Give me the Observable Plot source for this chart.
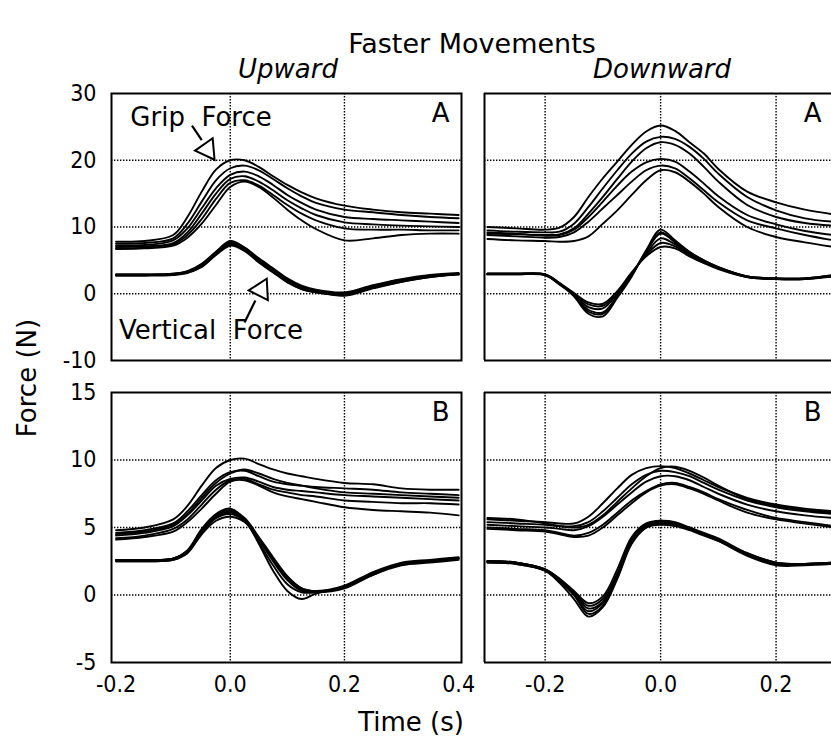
<!DOCTYPE html>
<html><head><meta charset="utf-8">
<script src="https://cdn.jsdelivr.net/npm/d3@7"></script>
<script src="https://cdn.jsdelivr.net/npm/@observablehq/plot@0.6"></script>
<style>
html,body{margin:0;padding:0;background:#fff;overflow:hidden}
#chart{position:relative;width:831px;height:743px;font-family:"DejaVu Sans",sans-serif;color:#000;background:#fff}
#chart svg{position:absolute;left:0;top:0;max-width:none}
.t{position:absolute;white-space:nowrap;line-height:1;transform:translate(-50%,-50%)}
</style></head><body>
<div id="chart">
  <div class="t" style="left:472px;top:43px;font-size:27px">Faster Movements</div>
  <div class="t" style="left:288px;top:69px;font-size:26px;font-style:italic">Upward</div>
  <div class="t" style="left:662px;top:69px;font-size:26px;font-style:italic">Downward</div>
  <div class="t" style="left:27px;top:378px;font-size:26px;transform:translate(-50%,-50%) rotate(-90deg)">Force (N)</div>
  <div class="t" style="left:411px;top:722px;font-size:26px">Time (s)</div>
</div>
<script>
// ---------- data ----------
const timeUp = [-0.2, -0.15, -0.1, -0.075, -0.05, -0.025, 0, 0.025, 0.05, 0.075, 0.1, 0.125, 0.15, 0.2, 0.25, 0.3, 0.35, 0.4];
const timeDown = [-0.3, -0.25, -0.2, -0.175, -0.15, -0.125, -0.1, -0.075, -0.05, -0.025, 0, 0.025, 0.05, 0.075, 0.1, 0.15, 0.2, 0.25, 0.3];

const upGripA = [
  [7.8, 7.9, 8.8, 11.5, 15.3, 18.6, 20.0, 20.0, 19.0, 17.6, 16.3, 15.2, 14.3, 13.2, 12.6, 12.2, 12.0, 11.8],
  [7.5, 7.6, 8.3, 10.5, 13.8, 17.0, 18.8, 19.2, 18.5, 17.2, 15.8, 14.6, 13.6, 12.6, 12.2, 11.8, 11.5, 11.3],
  [7.2, 7.3, 8.0, 9.8, 12.8, 15.8, 17.8, 18.3, 17.6, 16.3, 14.8, 13.6, 12.6, 11.5, 11.2, 11.0, 10.8, 10.6],
  [7.0, 7.1, 7.6, 9.2, 12.0, 15.0, 17.2, 17.6, 16.8, 15.5, 14.0, 12.8, 11.8, 10.7, 10.4, 10.2, 10.1, 10.0],
  [6.8, 6.9, 7.4, 8.8, 11.2, 14.2, 16.6, 17.0, 16.2, 14.8, 13.3, 12.0, 11.0, 9.8, 9.6, 9.6, 9.5, 9.5],
  [6.7, 6.8, 7.2, 8.4, 10.5, 13.3, 16.0, 16.8, 16.0, 14.4, 12.6, 11.0, 9.7, 8.0, 8.3, 8.8, 9.0, 9.0]
];
const upVertA = [
  [2.9, 2.9, 3.0, 3.4, 4.5, 6.3, 7.9, 6.9, 5.2, 3.7, 2.2, 1.1, 0.5, 0.1, 1.2, 2.1, 2.7, 3.0],
  [2.8, 2.8, 2.9, 3.3, 4.3, 6.1, 7.6, 6.7, 5.0, 3.5, 2.0, 0.9, 0.3, -0.1, 1.0, 1.9, 2.6, 2.9],
  [2.8, 2.8, 2.9, 3.2, 4.2, 6.0, 7.4, 6.5, 4.8, 3.3, 1.8, 0.7, 0.2, -0.2, 0.9, 1.8, 2.5, 2.9],
  [2.7, 2.7, 2.8, 3.1, 4.0, 5.8, 7.2, 6.4, 4.7, 3.2, 1.7, 0.7, 0.2, 0.0, 1.1, 2.0, 2.6, 2.9],
  [2.9, 2.9, 3.0, 3.3, 4.4, 6.2, 7.8, 6.9, 5.3, 3.8, 2.3, 1.2, 0.6, 0.2, 1.3, 2.2, 2.8, 3.1],
  [2.8, 2.8, 2.9, 3.2, 4.1, 5.9, 7.5, 6.6, 5.1, 3.6, 2.1, 1.0, 0.4, -0.3, 0.8, 1.8, 2.5, 3.0]
];
const downGripA = [
  [10.0, 9.8, 9.6, 9.9, 11.5, 14.5, 17.3, 19.8, 22.3, 24.3, 25.2, 24.4, 22.7, 21.0, 18.7, 15.3, 13.7, 12.6, 11.9],
  [9.5, 9.3, 9.2, 9.3, 10.5, 13.0, 15.8, 18.5, 21.0, 22.8, 23.5, 23.2, 22.0, 20.2, 18.0, 14.5, 12.5, 11.3, 10.8],
  [9.0, 8.9, 8.8, 8.9, 9.8, 12.0, 14.5, 17.2, 19.8, 21.8, 22.7, 22.3, 21.0, 19.0, 16.8, 13.3, 11.5, 10.6, 10.2],
  [8.8, 8.6, 8.4, 8.5, 9.2, 10.8, 12.8, 14.8, 16.8, 18.5, 19.2, 18.8, 17.3, 15.5, 13.7, 11.0, 9.8, 8.8, 8.0],
  [8.2, 8.0, 7.9, 7.8, 7.9, 8.6, 10.5, 12.5, 14.8, 17.0, 18.5, 18.2, 16.8, 15.0, 13.0, 10.0, 8.5, 7.7, 7.0],
  [9.2, 9.0, 8.7, 8.8, 9.6, 11.5, 13.8, 16.2, 18.3, 19.7, 20.2, 19.8, 18.3, 16.5, 14.6, 11.8, 10.4, 9.4, 8.8]
];
const downVertA = [
  [3.0, 3.0, 2.9, 1.6, -0.4, -3.0, -3.4, -0.6, 2.6, 6.5, 9.6, 8.0, 6.3, 5.0, 4.0, 2.6, 2.3, 2.3, 2.8],
  [3.0, 3.0, 2.8, 1.5, -0.2, -2.4, -2.8, -0.3, 2.8, 6.4, 9.2, 7.7, 6.1, 4.9, 3.9, 2.5, 2.2, 2.2, 2.7],
  [2.9, 2.9, 2.8, 1.4, -0.1, -2.0, -2.2, 0.0, 3.0, 6.0, 8.3, 7.4, 6.0, 4.8, 3.9, 2.6, 2.3, 2.3, 2.7],
  [2.9, 2.9, 2.8, 1.5, 0.0, -1.6, -1.8, 0.2, 3.1, 5.8, 7.6, 7.1, 5.8, 4.7, 3.8, 2.5, 2.2, 2.2, 2.6],
  [3.0, 3.0, 2.9, 1.6, 0.1, -1.3, -1.5, 0.4, 3.2, 5.6, 7.0, 6.8, 5.6, 4.6, 3.7, 2.5, 2.2, 2.2, 2.7],
  [3.0, 3.0, 2.8, 1.4, -0.3, -2.7, -3.0, -0.4, 2.7, 6.3, 9.0, 7.8, 6.2, 5.0, 4.0, 2.6, 2.3, 2.3, 2.8]
];
const upGripB = [
  [4.8, 5.0, 5.6, 6.6, 8.1, 9.4, 10.0, 10.1, 9.7, 9.3, 9.0, 8.8, 8.6, 8.3, 8.2, 7.9, 7.8, 7.8],
  [4.6, 4.8, 5.3, 6.2, 7.4, 8.5, 9.1, 9.2, 8.8, 8.4, 8.2, 8.1, 8.0, 7.9, 7.8, 7.6, 7.5, 7.4],
  [4.4, 4.6, 5.1, 5.9, 7.0, 8.1, 8.6, 8.7, 8.4, 8.0, 7.8, 7.7, 7.6, 7.4, 7.3, 7.2, 7.1, 7.0],
  [4.2, 4.4, 4.9, 5.6, 6.7, 7.8, 8.5, 8.6, 8.2, 7.8, 7.6, 7.4, 7.3, 7.0, 6.9, 6.8, 6.8, 6.7],
  [4.1, 4.3, 4.7, 5.4, 6.4, 7.5, 8.4, 8.5, 8.1, 7.6, 7.3, 7.1, 6.9, 6.5, 6.3, 6.2, 6.1, 5.9],
  [4.5, 4.7, 5.2, 6.0, 7.2, 8.3, 9.0, 9.3, 9.0, 8.6, 8.3, 8.1, 7.9, 7.6, 7.5, 7.4, 7.3, 7.2]
];
const upVertB = [
  [2.6, 2.6, 2.7, 3.3, 4.9, 6.0, 6.4, 5.6, 3.8, 1.8, 0.3, -0.3, 0.1, 0.6, 1.5, 2.3, 2.5, 2.7],
  [2.6, 2.6, 2.7, 3.2, 4.7, 5.8, 6.2, 5.6, 4.2, 2.6, 1.2, 0.4, 0.2, 0.6, 1.6, 2.3, 2.5, 2.7],
  [2.5, 2.5, 2.6, 3.1, 4.5, 5.5, 5.8, 5.4, 4.1, 2.5, 1.1, 0.3, 0.2, 0.5, 1.5, 2.2, 2.4, 2.6],
  [2.6, 2.6, 2.7, 3.3, 4.8, 5.9, 6.3, 5.7, 4.3, 2.8, 1.4, 0.5, 0.3, 0.7, 1.7, 2.4, 2.6, 2.8],
  [2.5, 2.5, 2.6, 3.2, 4.6, 5.7, 6.0, 5.5, 4.2, 2.7, 1.3, 0.5, 0.3, 0.6, 1.6, 2.3, 2.5, 2.7],
  [2.6, 2.6, 2.7, 3.2, 4.7, 5.7, 6.1, 5.5, 3.9, 2.2, 0.8, 0.2, 0.2, 0.6, 1.6, 2.3, 2.5, 2.7]
];
const downGripB = [
  [5.6, 5.5, 5.4, 5.3, 5.3, 5.8, 6.8, 7.9, 8.9, 9.4, 9.55, 9.4, 9.0, 8.5, 8.0, 7.2, 6.7, 6.4, 6.2],
  [5.4, 5.3, 5.2, 5.1, 5.1, 5.4, 6.2, 7.2, 8.2, 8.9, 9.2, 9.1, 8.8, 8.3, 7.8, 7.0, 6.5, 6.2, 6.0],
  [5.2, 5.1, 5.0, 4.9, 4.8, 5.1, 5.8, 6.7, 7.6, 8.4, 8.8, 8.8, 8.5, 8.0, 7.5, 6.7, 6.2, 5.9, 5.7],
  [5.0, 4.9, 4.8, 4.6, 4.4, 4.6, 5.2, 6.1, 7.0, 7.7, 8.2, 8.3, 8.0, 7.6, 7.1, 6.3, 5.7, 5.4, 5.1],
  [5.7, 5.6, 5.3, 5.1, 5.0, 5.2, 5.9, 6.9, 7.9, 8.8, 9.4, 9.5, 9.2, 8.7, 8.1, 7.1, 6.6, 6.3, 6.1],
  [4.9, 4.8, 4.7, 4.5, 4.3, 4.4, 5.0, 5.9, 6.8, 7.6, 8.1, 8.2, 7.9, 7.5, 7.0, 6.1, 5.6, 5.3, 5.0]
];
const downVertB = [
  [2.5, 2.4, 1.8, 0.9, -0.3, -1.6, -0.9, 1.2, 3.8, 5.0, 5.4, 5.3, 4.9, 4.5, 4.1, 3.0, 2.3, 2.3, 2.3],
  [2.5, 2.4, 1.9, 1.1, 0.0, -1.2, -0.6, 1.4, 4.0, 5.1, 5.5, 5.3, 5.0, 4.5, 4.1, 3.0, 2.3, 2.3, 2.4],
  [2.5, 2.4, 1.9, 1.2, 0.2, -0.8, -0.3, 1.6, 4.1, 5.2, 5.4, 5.3, 4.9, 4.5, 4.0, 3.1, 2.4, 2.3, 2.4],
  [2.4, 2.3, 1.8, 1.0, 0.1, -1.0, -0.5, 1.5, 3.9, 5.0, 5.2, 5.1, 4.8, 4.4, 4.0, 2.9, 2.2, 2.2, 2.3],
  [2.5, 2.4, 1.9, 1.2, 0.3, -0.6, -0.1, 1.9, 4.3, 5.3, 5.5, 5.4, 5.0, 4.6, 4.2, 3.1, 2.4, 2.3, 2.4],
  [2.4, 2.3, 1.8, 1.0, 0.0, -1.4, -0.8, 1.3, 3.9, 5.0, 5.3, 5.2, 4.9, 4.5, 4.1, 3.0, 2.3, 2.3, 2.3]
];

const yTicksA = [30, 20, 10, 0, -10];
const yTicksB = [15, 10, 5, 0, -5];
const xTicksUp = [-0.2, 0.0, 0.2, 0.4];
const xTicksDown = [-0.2, 0.0, 0.2];
const gridXUp = [0.0, 0.2];
const gridXDown = [-0.2, 0.0, 0.2];
const gridYA = [20, 10, 0];
const gridYB = [10, 5, 0];

// ---------- drawing ----------
const W = 831, H = 743;
const FONT = '"DejaVu Sans", sans-serif';
const TICKFONT = '"DejaVu Sans Condensed", "DejaVu Sans", sans-serif';

function rowsOf(time, sets) {
  const out = [];
  sets.forEach((set, si) => set.forEach((trial, ti) =>
    trial.forEach((v, i) => out.push({t: time[i], v, id: si + "-" + ti}))));
  return out;
}

function panel(o) {
  const dotted = {stroke: "#000", strokeWidth: 1.4, strokeDasharray: "1.4,1.6"};
  const marks = [
    Plot.ruleX(o.gridX, dotted),
    Plot.ruleY(o.gridY, dotted),
    Plot.line(rowsOf(o.time, o.series), {x: "t", y: "v", z: "id", curve: "catmull-rom", stroke: "#000", strokeWidth: 1.9}),
    Plot.text([o.letter], {text: d => d, frameAnchor: "top-right", dx: o.letterDx, dy: 10, lineAnchor: "top", fontSize: 26, fontFamily: FONT, fill: "#000"})
  ];
  if (o.openRight) {
    marks.push(Plot.ruleX([o.xDomain[0]], {stroke: "#000", strokeWidth: 2}));
    marks.push(Plot.ruleY(o.yDomain, {stroke: "#000", strokeWidth: 2}));
  } else {
    marks.push(Plot.frame({stroke: "#000", strokeWidth: 2}));
  }
  if (o.extra) marks.push(...o.extra);
  return Plot.plot({
    width: W, height: H,
    marginLeft: o.left, marginRight: W - o.right, marginTop: o.top, marginBottom: H - o.bottom,
    x: {domain: o.xDomain, axis: o.xTicks ? "bottom" : null, ticks: o.xTicks || [], tickSize: 0, tickPadding: 13,
        tickFormat: d => d.toFixed(1), label: null},
    y: {domain: o.yDomain, axis: o.yTicks ? "left" : null, ticks: o.yTicks || [], tickSize: 0, tickPadding: 15,
        tickFormat: d => String(d), label: null},
    style: {background: "transparent", fontFamily: TICKFONT, fontSize: "23px", color: "#000", overflow: "visible"},
    marks
  });
}

const arrowMarks = [
  Plot.text(["Grip\u00A0 Force"], {x: -0.175, y: 26.4, textAnchor: "start", fontSize: 26, fontFamily: FONT, fill: "#000"}),
  Plot.text(["Vertical\u00A0 Force"], {x: -0.195, y: -5.5, textAnchor: "start", fontSize: 26, fontFamily: FONT, fill: "#000"}),
  Plot.link([{x1: -0.067, y1: 25.2, x2: -0.050, y2: 23.0}], {x1: "x1", y1: "y1", x2: "x2", y2: "y2", stroke: "#000", strokeWidth: 2.2}),
  Plot.dot([{x: -0.040, y: 21.6}], {x: "x", y: "y", symbol: "triangle", r: 8, rotate: 145, fill: "#fff", stroke: "#000", strokeWidth: 2}),
  Plot.link([{x1: 0.025, y1: -4.3, x2: 0.044, y2: -1.0}], {x1: "x1", y1: "y1", x2: "x2", y2: "y2", stroke: "#000", strokeWidth: 2.2}),
  Plot.dot([{x: 0.054, y: 0.6}], {x: "x", y: "y", symbol: "triangle", r: 8, rotate: 27, fill: "#fff", stroke: "#000", strokeWidth: 2})
];

const chart = document.getElementById("chart");
chart.appendChild(panel({time: timeUp, series: [upGripA, upVertA], xDomain: [-0.208, 0.405], yDomain: [-10, 30],
  left: 111, right: 461, top: 93, bottom: 360, gridX: gridXUp, gridY: gridYA, yTicks: yTicksA, letter: "A", letterDx: -12, extra: arrowMarks}));
chart.appendChild(panel({time: timeDown, series: [downGripA, downVertA], xDomain: [-0.305, 0.296], yDomain: [-10, 30],
  left: 484, right: 831, top: 93, bottom: 360, gridX: gridXDown, gridY: gridYA, letter: "A", letterDx: -10, openRight: true}));
chart.appendChild(panel({time: timeUp, series: [upGripB, upVertB], xDomain: [-0.208, 0.405], yDomain: [-5, 15],
  left: 111, right: 461, top: 392, bottom: 662, gridX: gridXUp, gridY: gridYB, yTicks: yTicksB, xTicks: xTicksUp, letter: "B", letterDx: -12}));
chart.appendChild(panel({time: timeDown, series: [downGripB, downVertB], xDomain: [-0.305, 0.296], yDomain: [-5, 15],
  left: 484, right: 831, top: 392, bottom: 662, gridX: gridXDown, gridY: gridYB, xTicks: xTicksDown, letter: "B", letterDx: -10, openRight: true}));
</script>
</body></html>
